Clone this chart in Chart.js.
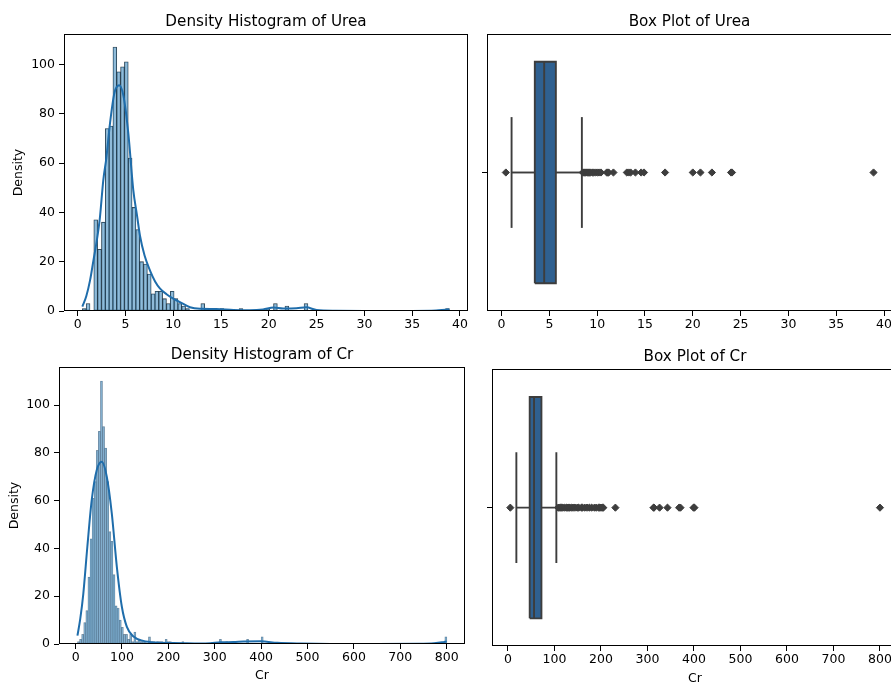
<!DOCTYPE html>
<html>
<head>
<meta charset="utf-8">
<script src="https://cdn.jsdelivr.net/npm/chart.js@4/dist/chart.umd.min.js"></script>
<style>
  html, body { margin: 0; padding: 0; background: #fff; width: 891px; height: 682px; overflow: hidden; }
  canvas { position: absolute; }
</style>
</head>
<body>
<canvas id="ureaHist" width="480" height="340" style="left:0px;top:0px"></canvas>
<canvas id="ureaBox" width="430" height="340" style="left:480px;top:0px"></canvas>
<canvas id="crHist" width="480" height="350" style="left:0px;top:340px"></canvas>
<canvas id="crBox" width="430" height="350" style="left:480px;top:340px"></canvas>
<script>
// ---- data ----
const ureaBinStart = 0.49;
const ureaBinWidth = 0.4;
const ureaCounts = [
  1, 3, 0, 37, 25, 36, 74, 75, 107, 97,
  99, 101, 62, 42, 33, 20, 19, 15, 7, 8,
  8, 5, 3, 8, 5, 3, 2, 1, 0, 0,
  0, 3, 1, 1, 1, 0, 1, 0, 0, 0,
  0, 1, 0, 0, 0, 0, 0, 0, 1, 0,
  3, 0, 0, 2, 0, 0, 0, 0, 3, 0,
  0, 0, 0, 0, 0, 0, 0, 0, 0, 0,
  0, 0, 0, 0, 0, 0, 0, 0, 0, 0,
  0, 0, 0, 0, 0, 0, 0, 0, 0, 0,
  0, 0, 0, 0, 0, 1
];
const ureaKdeX = [0.49, 0.9, 1.3, 1.65, 2.0, 2.33, 2.68, 3.0, 3.38, 3.85, 4.35, 4.8, 5.3, 5.82, 6.2, 6.52, 7.0, 7.56, 8.1, 8.6,
  9.3, 10.0, 10.7, 11.75, 12.8, 14.5, 16.3, 18.0, 19.4, 20.5, 21.5, 22.9, 23.9, 25.0, 27.0, 30.0, 35.0, 37.5, 38.5, 38.9];
const ureaKdeY = [1.8, 6, 12.5, 20.5, 28.5, 38, 53, 62, 76, 88.5, 91.5, 87, 72, 49, 39, 30.5, 22.5, 16.5, 12, 9.2,
  6.8, 5, 3.6, 1.5, 0.9, 0.8, 0.4, 0.3, 0.6, 1.4, 1.0, 1.1, 1.5, 0.4, 0.1, 0.05, 0.05, 0.2, 0.5, 0.6];
// low whisker, q1, median, q3, high whisker
const ureaBoxStats = [1.05, 3.48, 4.46, 5.68, 8.4];
const ureaOutliers = [0.45, 8.5, 8.6, 8.7, 8.8, 8.9, 9.0, 9.1, 9.2, 9.3, 9.5, 9.6, 9.8, 10.0, 10.2, 10.4,
  11.0, 11.1, 11.2, 11.7, 13.1, 13.3, 13.5, 14.0, 14.6, 14.9, 17.1, 20.0, 20.8, 22.0, 24.0, 24.1, 38.9];
const ureaXTicks = [0, 5, 10, 15, 20, 25, 30, 35, 40];

const crBinStart = 4;
const crBinWidth = 4.5;
const crBinCount = 177;
const crCountsHead = [
  1, 2, 4, 9, 14, 28, 44, 61, 68, 81,
  89, 110, 91, 82, 68, 47, 43, 29, 16, 15,
  10, 7, 4, 4, 2, 4, 1, 5, 1, 2,
  1, 1, 1, 0, 3, 1, 1, 0, 1, 1,
  1, 0, 2, 1, 1, 0, 0, 0, 0, 0,
  1
];
const crTailBins = [68, 71, 75, 81, 88, 176];
const crTailCounts = [2, 1, 1, 2, 3, 3];
const crKdeX = [4, 10, 16.6, 25.3, 34.8, 45.6, 56.4, 67.2, 78, 88.9, 99.7, 110.5, 124.8, 146, 175, 211, 233, 267, 290, 312,
  340, 362, 399, 435, 485, 550, 650, 740, 773, 790, 800];
const crKdeY = [3.5, 10.5, 21, 40.7, 60.3, 72.8, 76.3, 70, 54.7, 32.3, 15.6, 7.2, 3.1, 1.3, 0.6, 0.4, 0.3, 0.2, 0.3, 0.7,
  0.8, 1.0, 1.1, 0.5, 0.2, 0.05, 0.05, 0.1, 0.3, 0.7, 1.1];
const crBoxStats = [18, 46.7, 56, 71.9, 104];
const crOutliers = [5, 108, 110, 113, 115, 118, 122, 126, 128, 131, 133, 137, 140, 144, 149, 152, 158, 160, 165, 170,
  175, 180, 186, 190, 195, 197, 200, 203, 205, 231, 313, 314, 326, 343, 368, 371, 399, 401, 800];
const crXTicks = [0, 100, 200, 300, 400, 500, 600, 700, 800];

const densityTicks = [0, 20, 40, 60, 80, 100];

// ---- styles ----
const FONT = "'DejaVu Sans', sans-serif";
const tickFont = { family: FONT, size: 12.5 };
const titleFont = { family: FONT, size: 15.2, weight: 'normal' };
const histFace = 'rgba(31, 119, 180, 0.5)';
const kdeColor = '#1f6dab';
const boxFill = '#2f6090';
const boxEdge = '#3d3d3d';
const boxHalf = 0.4;
const capHalf = 0.2;

Chart.defaults.font.family = FONT;
Chart.defaults.color = '#000';

// matplotlib style frame round the axes
const framePlugin = {
  id: 'frame',
  afterDraw(chart) {
    const { ctx, chartArea: a } = chart;
    ctx.save();
    ctx.strokeStyle = '#000';
    ctx.lineWidth = 1;
    const l = Math.floor(a.left) + 0.5, t = Math.floor(a.top) + 0.5;
    const r = Math.floor(a.right) - 0.5, b = Math.floor(a.bottom) - 0.5;
    ctx.strokeRect(l, t, r - l, b - t);
    ctx.restore();
  }
};

function xAxis(min, max, tickValues, height, title, titlePad) {
  return {
    type: 'linear', min, max, bounds: 'data', offset: false,
    afterBuildTicks: s => { s.ticks = tickValues.map(v => ({ value: v })); },
    afterFit: s => { s.height = height; },
    ticks: { autoSkip: false, maxRotation: 0, padding: 1.7, font: tickFont, color: '#000' },
    grid: { drawOnChartArea: false, drawTicks: true, tickLength: 5, tickColor: '#000', tickWidth: 1, offset: false },
    border: { display: false },
    title: title
      ? { display: true, text: title, font: tickFont, color: '#000', padding: { top: 0, bottom: titlePad } }
      : { display: false }
  };
}

function yAxis(min, max, tickValues, width, title, titlePad, blankLabels) {
  return {
    type: 'linear', min, max, bounds: 'data',
    afterBuildTicks: s => { s.ticks = tickValues.map(v => ({ value: v })); },
    afterFit: s => { s.width = width; },
    ticks: {
      autoSkip: false, padding: 4, font: tickFont, color: '#000',
      callback: blankLabels ? () => '' : v => String(v)
    },
    grid: { drawOnChartArea: false, drawTicks: true, tickLength: 5, tickColor: '#000', tickWidth: 1 },
    border: { display: false },
    title: title
      ? { display: true, text: title, font: tickFont, color: '#000', padding: { top: titlePad, bottom: 0 } }
      : { display: false }
  };
}

function titleOpts(text, top, bottom) {
  return { display: true, fullSize: false, text, font: titleFont, color: '#000', padding: { top, bottom } };
}

function histChart(id, cfg) {
  const bars = cfg.counts.map((c, i) => ({ x: cfg.binStart + (i + 0.5) * cfg.binWidth, y: c }));
  const kde = cfg.kdeX.map((x, i) => ({ x, y: cfg.kdeY[i] }));
  return new Chart(document.getElementById(id), {
    type: 'bar',
    data: {
      datasets: [
        {
          type: 'line', data: kde, order: 0,
          borderColor: kdeColor, borderWidth: 2, pointRadius: 0,
          cubicInterpolationMode: 'monotone', fill: false
        },
        {
          type: 'bar', data: bars, order: 1,
          backgroundColor: histFace, borderColor: cfg.edgeColor, borderWidth: cfg.edgeWidth,
          borderSkipped: false, barPercentage: 1, categoryPercentage: 1
        }
      ]
    },
    options: {
      responsive: false, animation: false, events: [],
      layout: { padding: { left: 0, top: 0, right: cfg.padRight, bottom: 0 } },
      plugins: {
        legend: { display: false }, tooltip: { enabled: false },
        title: titleOpts(cfg.title, cfg.titleTop, cfg.titleBottom)
      },
      scales: {
        x: xAxis(cfg.xMin, cfg.xMax, cfg.xTicks, cfg.xHeight, cfg.xTitle, cfg.xTitlePad),
        y: yAxis(0, cfg.yMax, densityTicks, cfg.yWidth, 'Density', cfg.yTitlePad, false)
      }
    },
    plugins: [framePlugin]
  });
}

function boxChart(id, cfg) {
  const [lo, q1, med, q3, hi] = cfg.stats;
  const seg = (data, extra) => Object.assign({
    data, showLine: true, pointRadius: 0, borderColor: boxEdge, borderWidth: 1.9, tension: 0, fill: false
  }, extra || {});
  const datasets = [
    seg([{ x: q1, y: -boxHalf }, { x: q3, y: -boxHalf }, { x: q3, y: boxHalf }, { x: q1, y: boxHalf }, { x: q1, y: -boxHalf }],
      { fill: 'shape', backgroundColor: boxFill, order: 5 }),
    seg([{ x: med, y: -boxHalf }, { x: med, y: boxHalf }], { order: 4 }),
    seg([{ x: lo, y: 0 }, { x: q1, y: 0 }], { order: 4 }),
    seg([{ x: q3, y: 0 }, { x: hi, y: 0 }], { order: 4 }),
    seg([{ x: lo, y: -capHalf }, { x: lo, y: capHalf }], { order: 4 }),
    seg([{ x: hi, y: -capHalf }, { x: hi, y: capHalf }], { order: 4 }),
    {
      data: cfg.outliers.map(v => ({ x: v, y: 0 })), showLine: false, order: 0,
      pointStyle: 'rectRot', pointRadius: 3.6, pointBackgroundColor: boxEdge,
      pointBorderColor: boxEdge, pointBorderWidth: 1
    }
  ];
  return new Chart(document.getElementById(id), {
    type: 'line',
    data: { datasets },
    options: {
      responsive: false, animation: false, events: [],
      layout: { padding: { left: 0, top: 0, right: cfg.padRight, bottom: 0 } },
      plugins: {
        legend: { display: false }, tooltip: { enabled: false },
        title: titleOpts(cfg.title, cfg.titleTop, cfg.titleBottom)
      },
      scales: {
        x: xAxis(cfg.xMin, cfg.xMax, cfg.xTicks, cfg.xHeight, cfg.xTitle, cfg.xTitlePad),
        y: yAxis(-0.5, 0.5, [0], cfg.yWidth, null, 0, true)
      }
    },
    plugins: [framePlugin]
  });
}

histChart('ureaHist', {
  counts: ureaCounts, binStart: ureaBinStart, binWidth: ureaBinWidth,
  kdeX: ureaKdeX, kdeY: ureaKdeY, edgeColor: 'rgba(0, 0, 0, 0.75)', edgeWidth: 0.4,
  title: 'Density Histogram of Urea', titleTop: 12.88, titleBottom: 2.88,
  xMin: -1.43, xMax: 40.84, xTicks: ureaXTicks, xHeight: 29, xTitle: null, xTitlePad: 0,
  yMax: 112.3, yWidth: 64, yTitlePad: 11.7, padRight: 12
});

boxChart('ureaBox', {
  stats: ureaBoxStats, outliers: ureaOutliers,
  title: 'Box Plot of Urea', titleTop: 12.88, titleBottom: 2.88,
  xMin: -1.52, xMax: 40.83, xTicks: ureaXTicks, xHeight: 29, xTitle: null, xTitlePad: 0,
  yWidth: 7, padRight: 18
});

const crCounts = [];
for (let i = 0; i < crBinCount; i++) crCounts.push(i < crCountsHead.length ? crCountsHead[i] : 0);
crTailBins.forEach((b, i) => { crCounts[b] = crTailCounts[i]; });

histChart('crHist', {
  counts: crCounts, binStart: crBinStart, binWidth: crBinWidth,
  kdeX: crKdeX, kdeY: crKdeY, edgeColor: 'rgba(70, 80, 95, 0.55)', edgeWidth: 0.35,
  title: 'Density Histogram of Cr', titleTop: 5.88, titleBottom: 2.88,
  xMin: -35.8, xMax: 839.5, xTicks: crXTicks, xHeight: 46, xTitle: 'Cr', xTitlePad: 6.7,
  yMax: 115.9, yWidth: 59, yTitlePad: 7.2, padRight: 15
});

boxChart('crBox', {
  stats: crBoxStats, outliers: crOutliers,
  title: 'Box Plot of Cr', titleTop: 8.18, titleBottom: 2.88,
  xMin: -34.4, xMax: 838.8, xTicks: crXTicks, xHeight: 44, xTitle: 'Cr', xTitlePad: 3.7,
  yWidth: 12, padRight: 12
});
</script>
</body>
</html>
